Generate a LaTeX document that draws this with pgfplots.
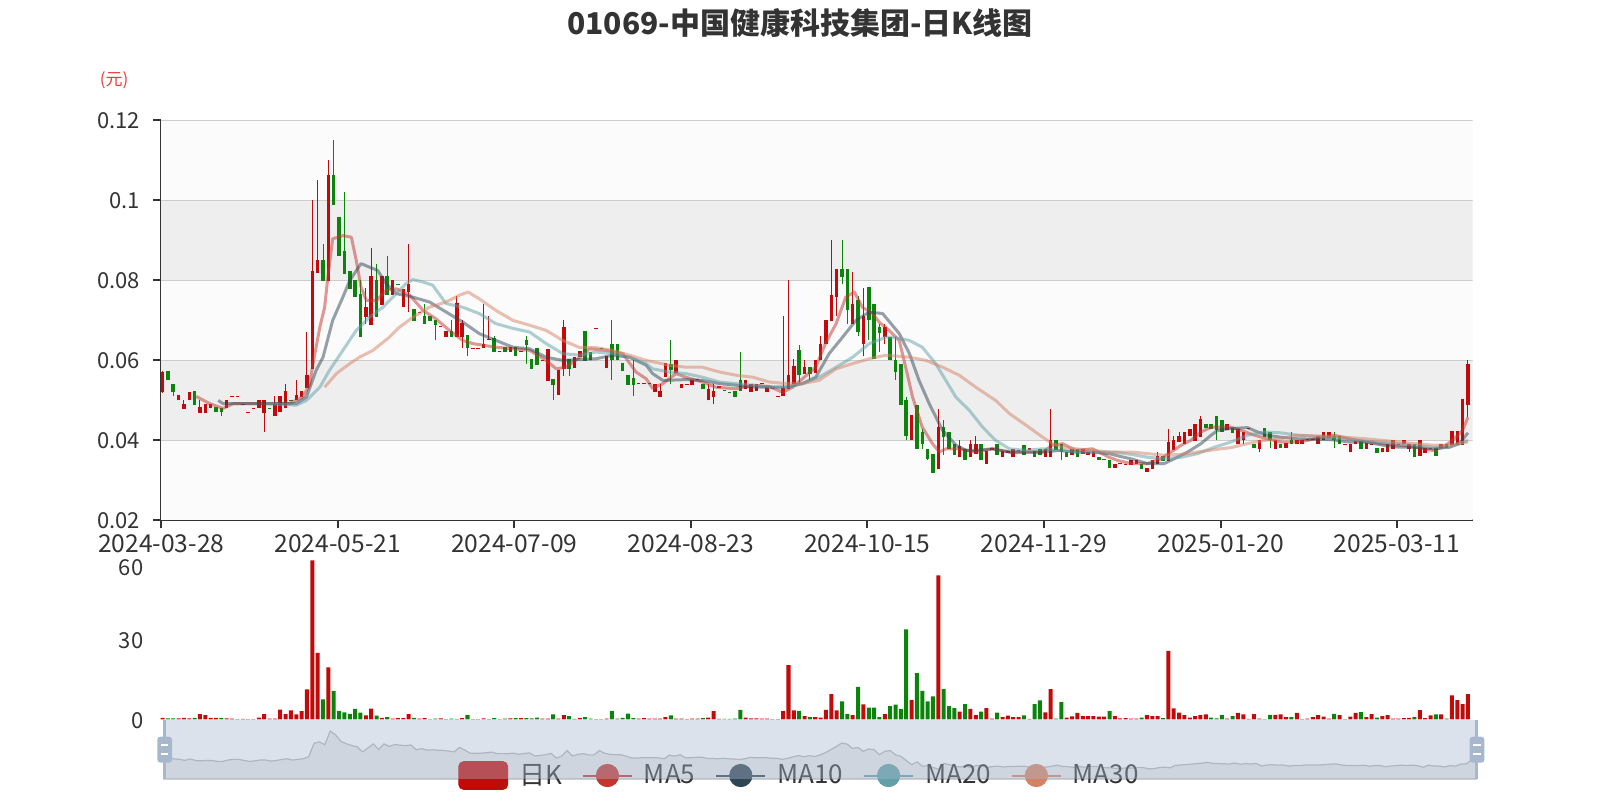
\documentclass[border=0pt]{standalone}
\usepackage{fontspec}
\setmainfont{Noto Sans CJK SC}
\usepackage{pgfplots}
\pgfplotsset{compat=1.18}
\usepackage{pgfplotstable}
\definecolor{upred}{RGB}{194,10,10}
\definecolor{downgreen}{RGB}{12,132,12}
\definecolor{txt}{RGB}{51,51,51}
\definecolor{gridc}{RGB}{204,204,204}
\definecolor{bandlight}{RGB}{251,251,251}
\definecolor{banddark}{RGB}{238,238,238}
\definecolor{maA}{HTML}{C23531}
\definecolor{maB}{HTML}{2F4554}
\definecolor{maC}{HTML}{61A0A8}
\definecolor{maD}{HTML}{D48265}
\definecolor{slider}{RGB}{167,183,204}
\definecolor{shadowfill}{RGB}{233,234,237}
\definecolor{shadowline}{RGB}{178,182,190}
\definecolor{unitred}{RGB}{235,60,60}

\pgfplotstableread{
i o c h l
0 0.0520 0.0570 0.0573 0.0519
1 0.0573 0.0550 0.0573 0.0550
2 0.0540 0.0520 0.0540 0.0510
3 0.0500 0.0513 0.0513 0.0500
4 0.0478 0.0492 0.0500 0.0478
5 0.0500 0.0520 0.0520 0.0500
6 0.0523 0.0489 0.0523 0.0489
7 0.0469 0.0484 0.0500 0.0469
8 0.0469 0.0490 0.0490 0.0469
9 0.0480 0.0490 0.0490 0.0480
10 0.0483 0.0472 0.0483 0.0472
11 0.0480 0.0470 0.0480 0.0460
12 0.0480 0.0500 0.0500 0.0480
13 0.0508 0.0512 0.0512 0.0508
14 0.0508 0.0512 0.0512 0.0508
15 0.0488 0.0492 0.0492 0.0488
16 0.0468 0.0472 0.0472 0.0468
17 0.0478 0.0482 0.0482 0.0478
18 0.0480 0.0500 0.0500 0.0480
19 0.0468 0.0500 0.0500 0.0420
20 0.0482 0.0478 0.0482 0.0478
21 0.0460 0.0490 0.0510 0.0460
22 0.0470 0.0510 0.0510 0.0470
23 0.0480 0.0523 0.0540 0.0480
24 0.0502 0.0498 0.0502 0.0498
25 0.0500 0.0513 0.0550 0.0500
26 0.0508 0.0523 0.0523 0.0508
27 0.0530 0.0563 0.0670 0.0530
28 0.0578 0.0823 0.1000 0.0578
29 0.0818 0.0852 0.1050 0.0818
30 0.0852 0.0798 0.0890 0.0798
31 0.0798 0.1063 0.1100 0.0798
32 0.1063 0.0988 0.1150 0.0988
33 0.0958 0.0861 0.0958 0.0861
34 0.0873 0.0817 0.1020 0.0817
35 0.0823 0.0779 0.0823 0.0779
36 0.0800 0.0758 0.0800 0.0758
37 0.0767 0.0658 0.0800 0.0658
38 0.0708 0.0733 0.0780 0.0690
39 0.0688 0.0812 0.0880 0.0688
40 0.0800 0.0708 0.0840 0.0708
41 0.0738 0.0812 0.0812 0.0738
42 0.0812 0.0763 0.0860 0.0763
43 0.0763 0.0800 0.0800 0.0763
44 0.0792 0.0788 0.0792 0.0788
45 0.0733 0.0778 0.0778 0.0733
46 0.0772 0.0792 0.0890 0.0720
47 0.0729 0.0698 0.0729 0.0698
48 0.0718 0.0722 0.0722 0.0718
49 0.0712 0.0692 0.0740 0.0692
50 0.0712 0.0698 0.0712 0.0698
51 0.0702 0.0688 0.0702 0.0650
52 0.0683 0.0687 0.0687 0.0683
53 0.0658 0.0673 0.0673 0.0658
54 0.0673 0.0658 0.0700 0.0658
55 0.0658 0.0743 0.0760 0.0658
56 0.0658 0.0693 0.0700 0.0630
57 0.0663 0.0630 0.0663 0.0610
58 0.0628 0.0632 0.0632 0.0628
59 0.0628 0.0632 0.0632 0.0628
60 0.0630 0.0642 0.0740 0.0630
61 0.0650 0.0654 0.0710 0.0650
62 0.0655 0.0622 0.0660 0.0622
63 0.0620 0.0624 0.0624 0.0620
64 0.0633 0.0622 0.0633 0.0622
65 0.0622 0.0633 0.0633 0.0622
66 0.0633 0.0611 0.0633 0.0611
67 0.0620 0.0624 0.0624 0.0620
68 0.0652 0.0638 0.0660 0.0592
69 0.0603 0.0578 0.0603 0.0578
70 0.0632 0.0588 0.0632 0.0588
71 0.0598 0.0602 0.0602 0.0598
72 0.0548 0.0629 0.0629 0.0548
73 0.0553 0.0538 0.0553 0.0500
74 0.0513 0.0575 0.0575 0.0513
75 0.0578 0.0683 0.0700 0.0560
76 0.0604 0.0579 0.0604 0.0560
77 0.0581 0.0608 0.0608 0.0581
78 0.0608 0.0623 0.0623 0.0608
79 0.0673 0.0598 0.0673 0.0598
80 0.0620 0.0600 0.0620 0.0600
81 0.0678 0.0682 0.0682 0.0678
82 0.0632 0.0628 0.0632 0.0628
83 0.0580 0.0610 0.0610 0.0580
84 0.0640 0.0600 0.0700 0.0550
85 0.0642 0.0600 0.0642 0.0600
86 0.0594 0.0573 0.0594 0.0573
87 0.0563 0.0538 0.0563 0.0538
88 0.0555 0.0538 0.0600 0.0510
89 0.0540 0.0544 0.0544 0.0540
90 0.0540 0.0544 0.0544 0.0540
91 0.0540 0.0544 0.0544 0.0540
92 0.0520 0.0542 0.0542 0.0520
93 0.0508 0.0523 0.0540 0.0508
94 0.0558 0.0593 0.0593 0.0558
95 0.0592 0.0575 0.0650 0.0540
96 0.0568 0.0600 0.0600 0.0568
97 0.0530 0.0542 0.0542 0.0530
98 0.0538 0.0542 0.0542 0.0538
99 0.0538 0.0552 0.0552 0.0538
100 0.0550 0.0554 0.0554 0.0550
101 0.0542 0.0529 0.0542 0.0529
102 0.0500 0.0528 0.0542 0.0500
103 0.0508 0.0523 0.0542 0.0490
104 0.0531 0.0535 0.0535 0.0531
105 0.0527 0.0523 0.0527 0.0523
106 0.0522 0.0518 0.0522 0.0518
107 0.0523 0.0508 0.0523 0.0508
108 0.0552 0.0523 0.0620 0.0523
109 0.0529 0.0552 0.0552 0.0529
110 0.0520 0.0542 0.0542 0.0520
111 0.0523 0.0542 0.0542 0.0523
112 0.0540 0.0544 0.0544 0.0540
113 0.0520 0.0533 0.0533 0.0520
114 0.0528 0.0532 0.0532 0.0528
115 0.0508 0.0512 0.0512 0.0508
116 0.0511 0.0532 0.0710 0.0511
117 0.0529 0.0563 0.0800 0.0529
118 0.0542 0.0585 0.0604 0.0542
119 0.0625 0.0563 0.0638 0.0542
120 0.0567 0.0583 0.0600 0.0567
121 0.0583 0.0567 0.0583 0.0550
122 0.0568 0.0600 0.0600 0.0568
123 0.0600 0.0642 0.0660 0.0600
124 0.0642 0.0702 0.0702 0.0642
125 0.0698 0.0763 0.0900 0.0698
126 0.0758 0.0829 0.0829 0.0710
127 0.0829 0.0808 0.0900 0.0790
128 0.0829 0.0725 0.0829 0.0690
129 0.0692 0.0742 0.0820 0.0692
130 0.0750 0.0670 0.0760 0.0660
131 0.0642 0.0712 0.0780 0.0610
132 0.0783 0.0700 0.0783 0.0650
133 0.0742 0.0604 0.0742 0.0604
134 0.0683 0.0668 0.0692 0.0621
135 0.0658 0.0683 0.0692 0.0642
136 0.0658 0.0600 0.0658 0.0600
137 0.0600 0.0570 0.0658 0.0550
138 0.0592 0.0488 0.0592 0.0488
139 0.0500 0.0410 0.0508 0.0400
140 0.0400 0.0463 0.0463 0.0400
141 0.0488 0.0379 0.0488 0.0379
142 0.0420 0.0390 0.0429 0.0379
143 0.0379 0.0353 0.0379 0.0350
144 0.0365 0.0319 0.0365 0.0319
145 0.0328 0.0433 0.0479 0.0328
146 0.0433 0.0408 0.0450 0.0363
147 0.0421 0.0379 0.0421 0.0379
148 0.0392 0.0363 0.0392 0.0363
149 0.0358 0.0385 0.0400 0.0358
150 0.0379 0.0352 0.0379 0.0352
151 0.0358 0.0392 0.0400 0.0358
152 0.0367 0.0392 0.0410 0.0367
153 0.0392 0.0352 0.0392 0.0352
154 0.0342 0.0373 0.0373 0.0342
155 0.0377 0.0381 0.0381 0.0377
156 0.0392 0.0363 0.0392 0.0363
157 0.0358 0.0373 0.0373 0.0358
158 0.0369 0.0373 0.0373 0.0369
159 0.0358 0.0379 0.0379 0.0358
160 0.0373 0.0377 0.0377 0.0373
161 0.0389 0.0363 0.0389 0.0363
162 0.0377 0.0381 0.0381 0.0377
163 0.0373 0.0358 0.0373 0.0358
164 0.0379 0.0363 0.0379 0.0363
165 0.0358 0.0379 0.0379 0.0358
166 0.0358 0.0400 0.0479 0.0358
167 0.0400 0.0375 0.0400 0.0375
168 0.0392 0.0370 0.0392 0.0350
169 0.0371 0.0358 0.0371 0.0358
170 0.0363 0.0379 0.0379 0.0363
171 0.0379 0.0358 0.0379 0.0358
172 0.0367 0.0379 0.0379 0.0367
173 0.0363 0.0371 0.0371 0.0363
174 0.0358 0.0373 0.0373 0.0358
175 0.0358 0.0350 0.0358 0.0350
176 0.0354 0.0350 0.0354 0.0350
177 0.0352 0.0332 0.0352 0.0332
178 0.0332 0.0340 0.0340 0.0332
179 0.0340 0.0344 0.0344 0.0340
180 0.0338 0.0342 0.0342 0.0338
181 0.0338 0.0352 0.0352 0.0338
182 0.0342 0.0352 0.0352 0.0342
183 0.0342 0.0328 0.0342 0.0328
184 0.0321 0.0332 0.0332 0.0321
185 0.0328 0.0352 0.0352 0.0328
186 0.0342 0.0362 0.0370 0.0342
187 0.0362 0.0348 0.0362 0.0348
188 0.0348 0.0396 0.0429 0.0348
189 0.0377 0.0402 0.0410 0.0377
190 0.0396 0.0410 0.0420 0.0396
191 0.0390 0.0420 0.0420 0.0390
192 0.0410 0.0429 0.0429 0.0410
193 0.0398 0.0440 0.0440 0.0398
194 0.0408 0.0454 0.0460 0.0408
195 0.0440 0.0432 0.0440 0.0432
196 0.0442 0.0429 0.0442 0.0429
197 0.0462 0.0427 0.0462 0.0402
198 0.0450 0.0421 0.0450 0.0421
199 0.0427 0.0442 0.0442 0.0427
200 0.0432 0.0418 0.0432 0.0418
201 0.0390 0.0429 0.0429 0.0390
202 0.0400 0.0421 0.0421 0.0390
203 0.0428 0.0432 0.0432 0.0428
204 0.0390 0.0382 0.0390 0.0382
205 0.0379 0.0402 0.0402 0.0371
206 0.0432 0.0408 0.0432 0.0408
207 0.0421 0.0400 0.0421 0.0382
208 0.0379 0.0402 0.0402 0.0379
209 0.0392 0.0382 0.0392 0.0382
210 0.0382 0.0393 0.0393 0.0382
211 0.0402 0.0390 0.0421 0.0390
212 0.0390 0.0402 0.0402 0.0390
213 0.0390 0.0402 0.0402 0.0390
214 0.0400 0.0404 0.0404 0.0400
215 0.0400 0.0404 0.0404 0.0400
216 0.0392 0.0410 0.0410 0.0392
217 0.0402 0.0421 0.0421 0.0402
218 0.0405 0.0420 0.0420 0.0405
219 0.0410 0.0400 0.0421 0.0382
220 0.0410 0.0390 0.0410 0.0390
221 0.0388 0.0392 0.0392 0.0388
222 0.0371 0.0390 0.0390 0.0371
223 0.0390 0.0398 0.0398 0.0390
224 0.0398 0.0379 0.0398 0.0379
225 0.0379 0.0393 0.0393 0.0379
226 0.0388 0.0392 0.0392 0.0388
227 0.0382 0.0368 0.0382 0.0368
228 0.0371 0.0382 0.0382 0.0371
229 0.0371 0.0390 0.0390 0.0371
230 0.0379 0.0400 0.0400 0.0379
231 0.0388 0.0392 0.0392 0.0388
232 0.0390 0.0400 0.0400 0.0390
233 0.0379 0.0390 0.0390 0.0371
234 0.0390 0.0358 0.0390 0.0358
235 0.0360 0.0400 0.0400 0.0360
236 0.0368 0.0382 0.0382 0.0368
237 0.0378 0.0382 0.0382 0.0378
238 0.0382 0.0362 0.0382 0.0362
239 0.0380 0.0392 0.0392 0.0380
240 0.0392 0.0380 0.0392 0.0380
241 0.0388 0.0423 0.0423 0.0388
242 0.0388 0.0423 0.0423 0.0388
243 0.0388 0.0503 0.0503 0.0388
244 0.0488 0.0592 0.0600 0.0458
}\candles

\pgfplotstableread{
i v u
0 0.6 1
1 0.4 0
2 0.4 0
3 0.4 1
4 0.6 1
5 0.4 1
6 0.6 0
7 2.0 1
8 1.6 1
9 0.6 1
10 0.6 1
11 0.6 0
12 0.4 1
13 0.3 1
14 0.1 1
15 0.2 1
16 0.1 1
17 0.1 1
18 0.7 1
19 2.0 1
20 0.3 1
21 0.3 1
22 3.7 1
23 2.0 1
24 3.4 1
25 1.9 1
26 3.1 1
27 11.2 1
28 59.5 1
29 24.9 1
30 7.5 0
31 19.5 1
32 10.7 0
33 3.2 0
34 2.6 0
35 2.1 0
36 3.9 0
37 2.5 0
38 1.5 1
39 4.0 1
40 1.4 0
41 0.6 1
42 0.9 0
43 0.3 1
44 0.5 1
45 0.5 1
46 2.0 1
47 0.6 0
48 0.3 1
49 0.5 1
50 0.1 0
51 0.3 0
52 0.4 1
53 0.1 1
54 0.3 0
55 0.1 1
56 0.5 1
57 1.6 0
58 0.1 1
59 0.1 1
60 0.4 1
61 0.1 1
62 0.5 0
63 0.1 1
64 0.3 0
65 0.4 1
66 0.5 0
67 0.5 1
68 0.5 0
69 0.4 0
70 0.7 0
71 0.3 1
72 0.3 1
73 1.9 0
74 0.3 1
75 1.6 1
76 1.2 0
77 0.2 1
78 0.6 1
79 0.9 0
80 0.3 0
81 0.1 1
82 0.1 0
83 0.3 1
84 3.2 0
85 0.3 0
86 0.6 0
87 2.2 0
88 0.5 0
89 0.3 1
90 0.5 1
91 0.3 1
92 0.3 1
93 0.3 1
94 0.9 1
95 1.5 0
96 0.3 1
97 0.3 1
98 0.1 1
99 0.3 1
100 0.3 1
101 0.5 0
102 0.7 1
103 3.1 1
104 0.2 1
105 0.2 0
106 0.2 0
107 0.3 0
108 3.6 0
109 0.7 1
110 0.4 1
111 0.4 1
112 0.3 1
113 0.3 1
114 0.1 1
115 0.1 1
116 3.1 1
117 20.3 1
118 3.4 1
119 3.2 0
120 1.2 1
121 0.9 0
122 0.9 1
123 0.7 1
124 3.6 1
125 9.5 1
126 3.4 1
127 6.7 0
128 2.1 0
129 1.6 1
130 12.2 0
131 5.6 1
132 4.4 0
133 4.4 0
134 0.9 0
135 2.0 1
136 5.0 0
137 5.5 0
138 3.9 0
139 33.7 0
140 7.2 1
141 17.3 0
142 10.7 0
143 6.7 0
144 8.6 0
145 53.9 1
146 11.3 0
147 5.0 0
148 4.2 0
149 2.9 1
150 5.7 0
151 3.9 1
152 1.6 1
153 2.9 0
154 4.2 1
155 0.3 1
156 2.5 0
157 0.9 1
158 1.4 1
159 0.9 1
160 0.9 1
161 1.5 0
162 0.2 1
163 5.7 0
164 7.1 0
165 2.6 1
166 11.3 1
167 0.3 0
168 6.5 0
169 0.7 1
170 1.1 1
171 2.4 1
172 1.2 1
173 1.2 1
174 1.2 1
175 1.0 1
176 1.0 1
177 3.1 0
178 1.2 1
179 0.4 1
180 0.5 1
181 0.3 1
182 0.3 1
183 0.7 0
184 1.6 1
185 1.2 1
186 1.2 1
187 0.5 0
188 25.6 1
189 4.1 1
190 2.5 1
191 1.6 1
192 0.7 1
193 1.2 1
194 1.6 1
195 1.9 1
196 0.7 0
197 0.4 0
198 1.6 0
199 0.3 1
200 1.2 0
201 2.4 1
202 1.9 1
203 0.2 1
204 2.0 1
205 0.3 1
206 0.1 0
207 1.7 0
208 1.7 1
209 1.9 1
210 0.9 1
211 0.9 0
212 2.4 1
213 0.1 1
214 0.3 1
215 0.9 1
216 1.6 1
217 1.0 1
218 0.3 1
219 2.1 0
220 1.6 1
221 0.1 1
222 1.0 1
223 2.4 1
224 2.7 0
225 0.9 1
226 2.0 1
227 0.7 0
228 1.2 1
229 1.6 1
230 0.3 1
231 0.3 1
232 0.5 1
233 0.6 1
234 0.9 0
235 3.5 1
236 0.5 1
237 1.5 1
238 1.9 0
239 1.9 1
240 0.3 0
241 9.0 1
242 7.2 1
243 5.7 1
244 9.5 1
}\vols

\pgfplotstableread{
x y
6.3 0.0510
8.8 0.0492
11.3 0.0480
13.2 0.0492
17.5 0.0492
23.7 0.0492
26.2 0.0508
27.5 0.0540
28.1 0.0590
29.4 0.0683
30.3 0.0733
30.9 0.0808
31.8 0.0904
33.7 0.0912
35.3 0.0908
36.2 0.0850
37.1 0.0783
38.1 0.0750
40 0.0750
41.8 0.0775
43.7 0.0779
46.2 0.0763
48.7 0.0725
51.1 0.0704
53.6 0.0675
56.1 0.0650
58 0.0642
59.9 0.0638
62.3 0.0633
65.5 0.0629
68.6 0.0625
71.7 0.0600
73.6 0.0579
75.4 0.0583
78 0.0608
79.8 0.0629
82.9 0.0625
86 0.0617
88.5 0.0571
90.4 0.0554
91.6 0.0530
93.5 0.0542
96 0.0567
97.8 0.0558
100.9 0.0546
103.4 0.0533
107.2 0.0529
110.3 0.0538
113.4 0.0535
115.9 0.0520
117.8 0.0533
119.6 0.0554
122.1 0.0583
123.9 0.0642
125.9 0.0692
127.7 0.0758
129.3 0.0771
130.8 0.0733
132.7 0.0717
134 0.0695
135.8 0.0675
137.7 0.0650
138.9 0.0583
140.2 0.0508
142 0.0433
143.9 0.0392
145.2 0.0371
146.4 0.0379
148.9 0.0379
152 0.0371
155.1 0.0379
158.3 0.0371
161.4 0.0371
164.5 0.0371
166.3 0.0388
168.2 0.0392
170.7 0.0375
173.8 0.0379
176.9 0.0358
178.5 0.0350
181 0.0342
184.1 0.0342
186.6 0.0354
188.5 0.0371
190.4 0.0388
192.2 0.0400
194.1 0.0421
196 0.0433
197.8 0.0433
199.7 0.0433
201.6 0.0425
204.1 0.0413
206.5 0.0404
209 0.0396
211.5 0.0396
214 0.0400
216.5 0.0408
219 0.0413
221.8 0.0404
225 0.0396
228.1 0.0392
231.2 0.0388
234.3 0.0383
237.4 0.0375
239.3 0.0383
241.1 0.0400
243 0.0425
244 0.0458
}\maFive

\pgfplotstableread{
x y
10.4 0.0500
11.3 0.0492
13.2 0.0492
25 0.0492
26.9 0.0508
28.7 0.0575
30 0.0608
31.8 0.0700
33.7 0.0758
35 0.0800
37.1 0.0842
38.7 0.0833
40.2 0.0825
41.8 0.0792
43.7 0.0767
46.8 0.0758
49.9 0.0746
53 0.0721
56.1 0.0696
59.2 0.0667
62.3 0.0650
65.5 0.0633
68.6 0.0629
71.7 0.0608
74.8 0.0600
78 0.0602
81 0.0604
84.1 0.0613
87.3 0.0608
90.4 0.0588
91.6 0.0567
93.5 0.0550
97.8 0.0552
100.9 0.0550
104.1 0.0542
107.2 0.0538
110.3 0.0533
116.5 0.0533
119.6 0.0542
122.1 0.0558
124.6 0.0617
127.1 0.0658
129.6 0.0700
132.1 0.0721
134.6 0.0717
137.7 0.0667
139.6 0.0617
141.4 0.0550
143.3 0.0492
145.8 0.0425
148.3 0.0388
150.2 0.0375
152 0.0375
155.1 0.0379
158.3 0.0371
164.5 0.0371
167.6 0.0375
170.7 0.0371
173.8 0.0371
176.9 0.0367
179 0.0360
181 0.0354
184.1 0.0342
187.2 0.0342
189.1 0.0354
191.6 0.0371
194.1 0.0392
196 0.0413
197.2 0.0425
199.1 0.0429
202.8 0.0432
204.7 0.0421
206.5 0.0413
209 0.0408
212.1 0.0404
218.4 0.0402
221.8 0.0396
225 0.0396
228.1 0.0388
231.2 0.0383
234.3 0.0383
237.4 0.0379
240.5 0.0383
242.4 0.0392
244 0.0419
}\maTen

\pgfplotstableread{
x y
19.4 0.0492
25 0.0488
26.9 0.0500
29.4 0.0533
31.2 0.0575
33.7 0.0625
36.2 0.0675
38.7 0.0708
41.2 0.0733
43.7 0.0767
45.5 0.0792
46.8 0.0802
48.7 0.0796
50.5 0.0788
53 0.0742
56.1 0.0733
59.2 0.0717
62.3 0.0692
65.5 0.0680
68.6 0.0671
71.7 0.0642
74.8 0.0617
78 0.0613
81 0.0621
84.1 0.0617
87.3 0.0608
90.4 0.0592
91.6 0.0579
94.7 0.0571
97.8 0.0567
100.9 0.0558
104.1 0.0546
107.2 0.0542
110.3 0.0538
113.4 0.0533
116.5 0.0533
119.6 0.0542
122.7 0.0558
125.9 0.0583
129 0.0608
132.1 0.0642
135.2 0.0658
136.4 0.0658
139.6 0.0650
142 0.0633
144.5 0.0592
146.4 0.0550
148.3 0.0508
150.8 0.0475
153.3 0.0433
155.7 0.0400
158.3 0.0379
161.4 0.0375
164.5 0.0379
167.6 0.0375
170.7 0.0371
178 0.0371
181 0.0365
184.1 0.0358
187.2 0.0354
190.4 0.0358
193.5 0.0367
196.6 0.0383
199.7 0.0396
202.8 0.0413
205.9 0.0421
209 0.0419
212.1 0.0413
215.3 0.0410
218.7 0.0406
225 0.0398
231.2 0.0392
237.4 0.0383
240.5 0.0383
244 0.0400
}\maTwenty

\pgfplotstableread{
x y
30.3 0.0533
32.5 0.0567
35 0.0592
36.8 0.0608
39.3 0.0625
42.4 0.0658
44 0.0680
46.8 0.0708
49.9 0.0733
53 0.0746
55.5 0.0763
57.1 0.0771
59.2 0.0754
62.3 0.0725
65.5 0.0700
68.6 0.0688
71.7 0.0675
74.8 0.0650
78 0.0632
81 0.0632
84.1 0.0625
87.3 0.0613
90.4 0.0600
94.7 0.0588
97.8 0.0583
100.9 0.0583
104.1 0.0571
107.2 0.0563
110.3 0.0558
113.4 0.0546
116.5 0.0542
119.6 0.0542
122.7 0.0550
125.9 0.0579
129 0.0592
132.1 0.0604
135.2 0.0613
139.6 0.0608
142.7 0.0600
145.8 0.0583
148.9 0.0563
152 0.0533
155.7 0.0500
158.3 0.0467
161.4 0.0438
164.5 0.0408
166.3 0.0392
168.2 0.0383
170.7 0.0379
173.8 0.0375
176.9 0.0371
181 0.0371
184.1 0.0367
187.2 0.0363
190.4 0.0365
193.5 0.0371
196.6 0.0377
199.7 0.0382
202.8 0.0392
205.9 0.0400
209 0.0404
212.1 0.0413
218.7 0.0410
225 0.0404
231.2 0.0396
237.4 0.0388
240.5 0.0388
244 0.0396
}\maThirty

\begin{document}
\begin{tikzpicture}
\useasboundingbox (0,0) rectangle (800pt,400pt);
\node[font=\fontsize{15}{18}\selectfont\bfseries, text=txt] at (400pt,388.75pt) {01069-中国健康科技集团-日K线图};
\node[font=\fontsize{8.5}{10}\selectfont, text=unitred] at (57pt,360pt) {(元)};

% ---------- main candlestick axis ----------
\begin{axis}[
  at={(80.6pt,139.8pt)}, anchor=south west, scale only axis,
  width=655.65pt, height=200pt,
  xmin=-0.25, xmax=244.85, ymin=0.02, ymax=0.12,
  axis x line*=bottom, axis y line*=left,
  axis line style={draw=txt, line width=1pt},
  tick style={draw=txt, line width=1pt},
  tick align=outside, major tick length=4pt,
  ytick={0.02,0.04,0.06,0.08,0.1,0.12},
  yticklabels={0.02,0.04,0.06,0.08,0.1,0.12},
  xtick={-0.25,32.75,65.75,98.75,131.75,164.75,197.75,230.75},
  xticklabels={2024-03-28,2024-05-21,2024-07-09,2024-08-23,2024-10-15,2024-11-29,2025-01-20,2025-03-11},
  yticklabel style={font=\fontsize{11}{13}\selectfont, text=txt, xshift=-3pt},
  xticklabel style={font=\fontsize{12.3}{14}\selectfont, text=txt, inner sep=0.5pt, yshift=-2.6pt},
  clip=true,
]
\fill[bandlight] (axis cs:-0.25,0.02) rectangle (axis cs:244.85,0.04);
\fill[banddark]  (axis cs:-0.25,0.04) rectangle (axis cs:244.85,0.06);
\fill[bandlight] (axis cs:-0.25,0.06) rectangle (axis cs:244.85,0.08);
\fill[banddark]  (axis cs:-0.25,0.08) rectangle (axis cs:244.85,0.10);
\fill[bandlight] (axis cs:-0.25,0.10) rectangle (axis cs:244.85,0.12);
\draw[gridc, line width=0.8pt] (axis cs:-0.25,0.04) -- (axis cs:244.85,0.04);
\draw[gridc, line width=0.8pt] (axis cs:-0.25,0.06) -- (axis cs:244.85,0.06);
\draw[gridc, line width=0.8pt] (axis cs:-0.25,0.08) -- (axis cs:244.85,0.08);
\draw[gridc, line width=0.8pt] (axis cs:-0.25,0.10) -- (axis cs:244.85,0.10);
\draw[gridc, line width=0.8pt] (axis cs:-0.25,0.12) -- (axis cs:244.85,0.12);

% wicks
\addplot[upred, line width=0.5pt, mark=none, quiver={u=0, v=\thisrow{h}-\thisrow{l}},
  restrict expr to domain={\thisrow{c}-\thisrow{o}}{0:1}] table[x=i, y=l] {\candles};
\addplot[downgreen, line width=0.5pt, mark=none, quiver={u=0, v=\thisrow{h}-\thisrow{l}},
  restrict expr to domain={\thisrow{c}-\thisrow{o}}{-1:0}] table[x=i, y=l] {\candles};
% bodies
\addplot[upred, line width=1.75pt, mark=none, quiver={u=0, v=\thisrow{c}-\thisrow{o}},
  restrict expr to domain={\thisrow{c}-\thisrow{o}}{0:1}] table[x=i, y=o] {\candles};
\addplot[downgreen, line width=1.75pt, mark=none, quiver={u=0, v=\thisrow{c}-\thisrow{o}},
  restrict expr to domain={\thisrow{c}-\thisrow{o}}{-1:0}] table[x=i, y=o] {\candles};

% moving averages
\addplot[maA, draw opacity=0.5, line width=1.5pt, mark=none, line join=round] table[x=x,y=y] {\maFive};
\addplot[maB, draw opacity=0.5, line width=1.5pt, mark=none, line join=round] table[x=x,y=y] {\maTen};
\addplot[maC, draw opacity=0.5, line width=1.5pt, mark=none, line join=round] table[x=x,y=y] {\maTwenty};
\addplot[maD, draw opacity=0.5, line width=1.5pt, mark=none, line join=round] table[x=x,y=y] {\maThirty};
\end{axis}

% ---------- slider shadow ----------
\begin{axis}[
  at={(81.65pt,10.5pt)}, anchor=south west, scale only axis,
  width=656.85pt, height=29.5pt,
  xmin=0, xmax=244, ymin=0.01302, ymax=0.12768,
  hide axis, clip=true,
]
\addplot[draw=shadowline, line width=0.6pt, fill=shadowfill, mark=none] table[x=i, y=c] {\candles} \closedcycle;
\end{axis}

% ---------- volume axis ----------
\begin{axis}[
  at={(80.6pt,40.3pt)}, anchor=south west, scale only axis,
  width=655.65pt, height=80.2pt,
  xmin=-0.25, xmax=244.85, ymin=0, ymax=60,
  axis x line=none, axis y line*=left,
  y axis line style={draw=none},
  ytick={0,30}, yticklabels={0,30},
  extra y ticks={60}, extra y tick labels={60},
  extra y tick style={yticklabel style={yshift=-3.7pt}},
  ytick style={draw=none}, major tick length=0pt,
  yticklabel style={font=\fontsize{11}{13}\selectfont, text=txt, inner sep=0.5pt, xshift=-8.2pt, yshift=-0.8pt},
  clip=false,
  legend columns=-1,
  legend cell align=left,
  legend style={at={(0.2263,-0.3498)}, anchor=west, draw=none, fill=none, inner sep=0pt,
    font=\fontsize{13}{15}\selectfont, text=txt,
    /tikz/every odd column/.append style={column sep=3.5pt},
    /tikz/every even column/.append style={column sep=8pt}},
]
\addplot[ybar, bar width=0.75, bar shift=0pt, fill=upred, draw=none, forget plot,
  restrict expr to domain={\thisrow{u}}{0.5:1.5}] table[x=i, y=v] {\vols};
\addplot[ybar, bar width=0.75, bar shift=0pt, fill=downgreen, draw=none, forget plot,
  restrict expr to domain={\thisrow{u}}{-0.5:0.5}] table[x=i, y=v] {\vols};
\addlegendimage{legend image code/.code={\fill[upred, rounded corners=2.5pt] (0pt,-7pt) rectangle (24.5pt,7pt);}}
\addlegendentry{日K}
\addlegendimage{legend image code/.code={\draw[maA, line width=1pt] (0pt,0pt) -- (24.5pt,0pt); \fill[maA] (12.25pt,0pt) circle (5.6pt);}}
\addlegendentry{MA5}
\addlegendimage{legend image code/.code={\draw[maB, line width=1pt] (0pt,0pt) -- (24.5pt,0pt); \fill[maB] (12.25pt,0pt) circle (5.6pt);}}
\addlegendentry{MA10}
\addlegendimage{legend image code/.code={\draw[maC, line width=1pt] (0pt,0pt) -- (24.5pt,0pt); \fill[maC] (12.25pt,0pt) circle (5.6pt);}}
\addlegendentry{MA20}
\addlegendimage{legend image code/.code={\draw[maD, line width=1pt] (0pt,0pt) -- (24.5pt,0pt); \fill[maD] (12.25pt,0pt) circle (5.6pt);}}
\addlegendentry{MA30}
\end{axis}

% ---------- slider filler overlay and handles ----------
\fill[slider, fill opacity=0.4] (81.65pt,10.5pt) rectangle (738.5pt,40pt);
\fill[slider] (81.3pt,10.5pt) rectangle (82.9pt,40pt);
\fill[slider] (737.6pt,10.5pt) rectangle (739.2pt,40pt);
\fill[slider, rounded corners=1.5pt] (78.65pt,18.65pt) rectangle (86pt,31.65pt);
\fill[slider, rounded corners=1.5pt] (734.8pt,18.65pt) rectangle (742.2pt,31.65pt);
\draw[white, line width=0.6pt] (80.5pt,27.5pt) -- (84.2pt,27.5pt);
\draw[white, line width=0.6pt] (80.5pt,23pt) -- (84.2pt,23pt);
\draw[white, line width=0.6pt] (736.6pt,27.5pt) -- (740.4pt,27.5pt);
\draw[white, line width=0.6pt] (736.6pt,23pt) -- (740.4pt,23pt);
\end{tikzpicture}
\end{document}
